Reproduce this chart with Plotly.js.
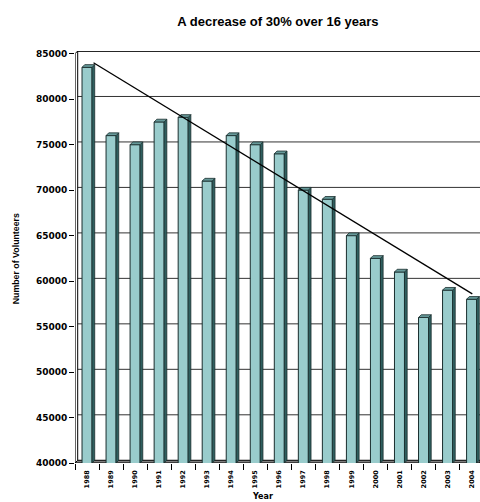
<!DOCTYPE html>
<html>
<head>
<meta charset="utf-8">
<script src="https://cdn.plot.ly/plotly-3.0.1.min.js"></script>
<style>html,body{margin:0;padding:0;background:#fff;}#chart{width:480px;height:502px;}</style>
</head>
<body>
<div id="chart"></div>
<script>
// ---- data ----
const years = [1988,1989,1990,1991,1992,1993,1994,1995,1996,1997,1998,1999,2000,2001,2002,2003,2004];
const volunteers = [83500,76000,75000,77500,78000,71000,76000,75000,74000,70000,69000,65000,62500,61000,56000,59000,58000];
const yTicks = [40000,45000,50000,55000,60000,65000,70000,75000,80000,85000];
const trendX = [1988.27, 2004.03];
const trendY = [84000, 58600];

// ---- geometry (3D look) ----
const xMin = 1987.5, xMax = 2004.35;
const yMin = 40000, yMax = 85300;
const barW = 0.416;
const dx = 0.112;   // depth offset in x units (~2.7px)
const dy = 300;     // depth offset in y units (~2.7px)

// side and top faces computed from data
const sideX = [], sideY = [], topX = [], topY = [];
years.forEach((yr, i) => {
  const v = volunteers[i];
  const x0 = yr - barW/2, x1 = yr + barW/2;
  sideX.push(x1, x1+dx, x1+dx, x1, x1, null);
  sideY.push(yMin, yMin+dy, v+dy, v, yMin, null);
  topX.push(x0, x1, x1+dx, x0+dx, x0, null);
  topY.push(v, v, v+dy, v+dy, v, null);
});

const traces = [
  {type:'bar', x:years, y:volunteers, width:barW, marker:{color:'#99CCCC', line:{color:'#1a2e2e', width:1}}, hoverinfo:'x+y', showlegend:false},
  {type:'scatter', mode:'lines', x:sideX, y:sideY, fill:'toself', fillcolor:'#2f5f5f', line:{color:'#1a2e2e', width:0.8}, hoverinfo:'skip', showlegend:false},
  {type:'scatter', mode:'lines', x:topX, y:topY, fill:'toself', fillcolor:'#669999', line:{color:'#1a2e2e', width:0.8}, hoverinfo:'skip', showlegend:false},
  {type:'scatter', mode:'lines', x:trendX, y:trendY, line:{color:'#000', width:1.3}, hoverinfo:'skip', showlegend:false}
];

const shapes = [];
// back-wall gridlines (shifted by depth)
yTicks.forEach(v => {
  if (v === yMin) return;
  shapes.push({type:'line', layer:'below', xref:'x', yref:'y', x0:xMin+dx, x1:xMax, y0:v+dy, y1:v+dy, line:{color:'#333', width:1}});
});
// floor
shapes.push({type:'path', layer:'below', xref:'x', yref:'y',
  path:`M ${xMin},${yMin} L ${xMax},${yMin} L ${xMax},${yMin+dy} L ${xMin+dx},${yMin+dy} Z`,
  fillcolor:'#7f7f7f', line:{color:'#000', width:1}});
// back wall left edge
shapes.push({type:'line', layer:'below', xref:'x', yref:'y', x0:xMin+dx, x1:xMin+dx, y0:yMin+dy, y1:85000+dy, line:{color:'#000', width:1}});
// front axis line
shapes.push({type:'line', layer:'above', xref:'x', yref:'y', x0:xMin, x1:xMin, y0:yMin, y1:85000, line:{color:'#000', width:1.2}});
// top connector and top edge
shapes.push({type:'line', layer:'above', xref:'x', yref:'y', x0:xMin, x1:xMin+dx, y0:85000, y1:85000+dy, line:{color:'#000', width:1}});
shapes.push({type:'line', layer:'above', xref:'x', yref:'y', x0:xMin+dx, x1:xMax, y0:85000+dy, y1:85000+dy, line:{color:'#000', width:1.5}});

const boundaries = years.map(y => y - 0.5);

const layout = {
  width:480, height:502,
  margin:{l:75, r:0, t:51, b:39},
  paper_bgcolor:'#fff', plot_bgcolor:'#fff',
  title:{text:'<b>A decrease of 30% over 16 years</b>', font:{family:'Liberation Sans, Arial, sans-serif', size:13, color:'#000'}, x:0.579, xanchor:'center', y:0.958, yanchor:'middle'},
  xaxis:{
    range:[xMin, xMax], tickmode:'array', tickvals:years, ticktext:years.map(y => '<b>'+y+'</b>'),
    tickangle:-90, ticks:'', showgrid:false, zeroline:false, showline:false, ticklabelstandoff:5,
    tickfont:{family:'DejaVu Sans, sans-serif', size:6.5, color:'#000'},
    minor:{tickmode:'array', tickvals:boundaries, ticks:'outside', ticklen:6, tickcolor:'#000', tickwidth:1, showgrid:false}
  },
  yaxis:{
    range:[yMin, yMax], tickmode:'array', tickvals:yTicks, ticktext:yTicks.map(v => '<b>'+v+'</b>'),
    ticks:'outside', ticklen:5, tickcolor:'#000', tickwidth:1, showgrid:false, zeroline:false, showline:false,
    tickfont:{family:'DejaVu Sans, sans-serif', size:9, color:'#000'}
  },
  shapes:shapes,
  annotations:[
    {text:'<b>Year</b>', xref:'paper', yref:'paper', x:0.464, y:-0.081, xanchor:'center', yanchor:'middle', showarrow:false, font:{family:'DejaVu Sans, sans-serif', size:8, color:'#000'}},
    {text:'<b>Number of Volunteers</b>', xref:'paper', yref:'paper', x:-0.145, y:0.495, xanchor:'center', yanchor:'middle', textangle:-90, showarrow:false, font:{family:'Liberation Sans, Arial, sans-serif', size:8.8, color:'#000'}}
  ],
  bargap:0
};

Plotly.newPlot('chart', traces, layout, {displayModeBar:false, staticPlot:true});
</script>
</body>
</html>
